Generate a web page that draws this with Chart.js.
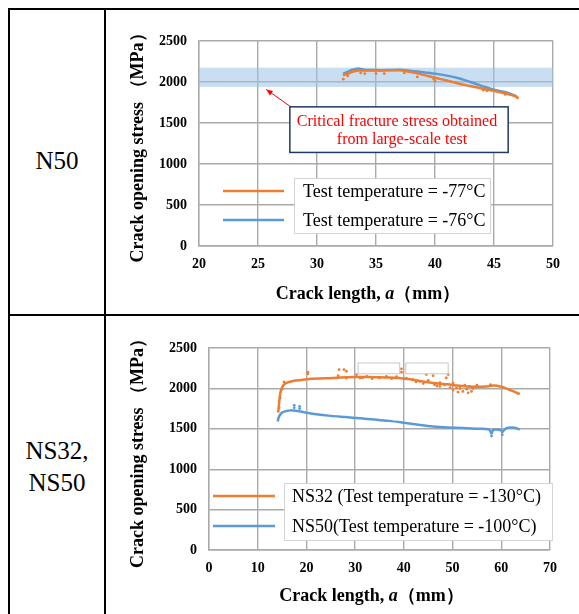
<!DOCTYPE html>
<html>
<head>
<meta charset="utf-8">
<script src="https://cdn.jsdelivr.net/npm/chart.js@4.4.1/dist/chart.umd.min.js"></script>
<style>
  body { margin: 0; background: #fff; width: 579px; height: 614px; overflow: hidden; position: relative; font-family: "Liberation Serif", serif; }
  .ln { position: absolute; background: #000; }
  .lbl { position: absolute; left: 9px; width: 96px; font-size: 25px; line-height: 32px; text-align: center; color: #000; }
  .cv { position: absolute; left: 110px; }
</style>
</head>
<body>
<div class="ln" style="left:8px;top:8px;width:571px;height:2px"></div>
<div class="ln" style="left:8px;top:8px;width:2px;height:606px"></div>
<div class="ln" style="left:104px;top:8px;width:2px;height:606px"></div>
<div class="ln" style="left:8px;top:314px;width:571px;height:2px"></div>

<div class="lbl" style="top:145px">N50</div>
<div class="lbl" style="top:435px">NS32,<br>NS50</div>

<canvas id="chartN50" class="cv" style="top:20px" width="460" height="290"></canvas>
<canvas id="chartNS" class="cv" style="top:320px" width="460" height="290"></canvas>

<script>
// ---- N50 chart data ----
const n50X77 = [32.2, 32.6, 33.0, 33.5, 34.0, 35.0, 36.0, 37.0, 37.5, 38.5, 39.5, 40.5, 41.5, 42.5, 43.5, 44.5, 45.5, 46.5, 47.0];
const n50Y77 = [2085, 2100, 2125, 2140, 2140, 2140, 2142, 2142, 2135, 2105, 2070, 2035, 2000, 1965, 1935, 1905, 1875, 1840, 1815];
const n50X76 = [32.2, 32.6, 33.0, 33.3, 33.6, 34.0, 35.0, 36.0, 37.0, 38.0, 39.0, 40.0, 41.0, 42.0, 43.0, 44.0, 45.0, 46.0, 46.9];
const n50Y76 = [2100, 2125, 2150, 2160, 2163, 2150, 2145, 2145, 2148, 2135, 2120, 2102, 2078, 2045, 2000, 1950, 1905, 1875, 1828];
const n50DotX = [32.23, 32.6, 33.7, 34.05, 35.0, 35.7, 37.4, 38.5, 39.9, 40.0, 44.1, 44.4, 45.95, 47.0];
const n50DotY = [2034, 2074, 2111, 2103, 2103, 2103, 2111, 2062, 2034, 2010, 1900, 1892, 1848, 1806];
const bandLow = 1940, bandHigh = 2175;

// ---- NS32 / NS50 chart data ----
const ns32X = [14.2, 14.4, 14.6, 14.9, 15.3, 15.8, 16.5, 17.5, 19, 21, 24, 27, 30, 33, 36, 39, 41, 43, 45, 47, 49, 51, 53, 55, 57, 58.5, 60, 61, 62, 63, 63.8];
const ns32Y = [1700, 1820, 1930, 2000, 2040, 2065, 2080, 2095, 2105, 2120, 2125, 2135, 2140, 2140, 2135, 2130, 2115, 2095, 2075, 2060, 2050, 2035, 2025, 2020, 2025, 2035, 2020, 2000, 1975, 1950, 1930];
const ns50X = [14.1, 14.3, 14.6, 15.0, 15.6, 16.3, 17.2, 18.5, 20, 22, 25, 28, 31, 34, 37, 40, 43, 46, 49, 52, 55, 57.5, 58, 58.3, 59, 60, 60.3, 61, 62, 63, 63.8];
const ns50Y = [1590, 1640, 1675, 1700, 1715, 1725, 1728, 1718, 1700, 1680, 1660, 1645, 1630, 1615, 1598, 1575, 1550, 1528, 1515, 1510, 1500, 1490, 1440, 1485, 1490, 1480, 1470, 1505, 1515, 1510, 1490];
const ns32NoiseX = [14.4, 14.6, 15.0, 15.4, 20.3, 20.3, 26.5, 26.7, 27.7, 28.2, 28.2, 30.3, 31.0, 31.5, 32.4, 35.0, 36.4, 39.5, 39.5, 40.5, 41.9, 43.3, 44.6, 46.0, 46.3, 47.4, 47.4, 48.4, 48.7, 49.1, 50.1, 50.1, 50.8, 51.1, 52.1, 52.9, 53.2, 53.5, 53.9, 57.8, 42.5, 44.0, 45.0, 46.8, 49.5, 51.5, 52.5, 54.2, 55.0, 33.5, 37.5, 38.5];
const ns32NoiseY = [1760, 1880, 1990, 2080, 2200, 2180, 2158, 2233, 2233, 2212, 2128, 2171, 2128, 2130, 2148, 2128, 2148, 2242, 2200, 2128, 2107, 2087, 2171, 2158, 2045, 2025, 2070, 2045, 2130, 2171, 2066, 1980, 2004, 1955, 1963, 1990, 1945, 2025, 1963, 2045, 2080, 2060, 2100, 2030, 2010, 2000, 2040, 2000, 2040, 2120, 2120, 2145];
const ns50NoiseX = [17.5, 17.5, 18.6, 18.6, 58.0, 58.0, 60.2, 60.2];
const ns50NoiseY = [1790, 1760, 1778, 1750, 1410, 1450, 1425, 1460];

const ORANGE = "#ed7d31";
const BLUE = "#5b9bd5";
const GRID = "#aaaaaa";
const SERIF = '"Liberation Serif", "Times New Roman", serif';

function pts(xs, ys) {
  return xs.map((x, i) => ({ x, y: ys[i] }));
}

function lineSet(label, xs, ys, color, order) {
  return { label, data: pts(xs, ys), showLine: true, borderColor: color, backgroundColor: color,
    borderWidth: 2.5, pointRadius: 0, tension: 0.3, order };
}

function dotSet(xs, ys, color, order) {
  return { data: pts(xs, ys), showLine: false, pointRadius: 1.4, pointBorderWidth: 0,
    backgroundColor: color, borderColor: color, order };
}

// draws legend, x title, band, annotation and empty boxes
const decoPlugin = {
  id: "deco",
  beforeDatasetsDraw(chart, args, o) {
    if (!o.band) return;
    const { ctx, chartArea: a, scales: { y } } = chart;
    ctx.save();
    ctx.fillStyle = "rgba(157,195,230,0.55)";
    const t = y.getPixelForValue(o.band[1]), b = y.getPixelForValue(o.band[0]);
    ctx.fillRect(a.left, t, a.right - a.left, b - t);
    ctx.restore();
  },
  afterDatasetsDraw(chart, args, o) {
    const { ctx, chartArea: a, scales: { x, y } } = chart;
    ctx.save();

    // empty boxes
    (o.ghosts || []).forEach(g => {
      const x1 = x.getPixelForValue(g[0]), x2 = x.getPixelForValue(g[1]);
      const y1 = y.getPixelForValue(g[3]), y2 = y.getPixelForValue(g[2]);
      ctx.fillStyle = "#fff";
      ctx.fillRect(x1, y1, x2 - x1, y2 - y1);
      ctx.strokeStyle = "#c8c8c8";
      ctx.lineWidth = 1;
      ctx.strokeRect(x1, y1, x2 - x1, y2 - y1);
    });

    // annotation with arrow
    if (o.note) {
      const n = o.note;
      const x1 = x.getPixelForValue(n.box[0]), x2 = x.getPixelForValue(n.box[1]);
      const y1 = y.getPixelForValue(n.box[2]), y2 = y.getPixelForValue(n.box[3]);
      const tx = x.getPixelForValue(n.tip[0]), ty = y.getPixelForValue(n.tip[1]);
      ctx.strokeStyle = "#ff0000";
      ctx.fillStyle = "#ff0000";
      ctx.lineWidth = 1;
      ctx.beginPath();
      ctx.moveTo(x1 + 1, y1);
      ctx.lineTo(tx, ty);
      ctx.stroke();
      const ang = Math.atan2(ty - y1, tx - x1 - 1);
      ctx.beginPath();
      ctx.moveTo(tx, ty);
      ctx.lineTo(tx - 7 * Math.cos(ang - 0.4), ty - 7 * Math.sin(ang - 0.4));
      ctx.lineTo(tx - 7 * Math.cos(ang + 0.4), ty - 7 * Math.sin(ang + 0.4));
      ctx.closePath();
      ctx.fill();
      ctx.fillStyle = "#fff";
      ctx.fillRect(x1, y1, x2 - x1, y2 - y1);
      ctx.strokeStyle = "#203864";
      ctx.lineWidth = 1.5;
      ctx.strokeRect(x1, y1, x2 - x1, y2 - y1);
      ctx.fillStyle = "#ff0000";
      ctx.font = "16px " + SERIF;
      ctx.textAlign = "center";
      ctx.textBaseline = "middle";
      const cx = (x1 + x2) / 2;
      ctx.fillText(n.lines[0], cx - 2, y1 + 14.5);
      ctx.fillText(n.lines[1], cx + 3, y1 + 33);
    }

    // legend
    const L = o.legend;
    ctx.fillStyle = "#fff";
    ctx.fillRect(L.x, L.y, L.w, L.h);
    ctx.strokeStyle = "#d4d4d4";
    ctx.lineWidth = 1;
    ctx.strokeRect(L.x + 0.5, L.y + 0.5, L.w, L.h);
    ctx.font = "18px " + SERIF;
    ctx.textAlign = "left";
    ctx.textBaseline = "middle";
    L.rows.forEach((ry, i) => {
      const ds = chart.data.datasets[i];
      ctx.strokeStyle = ds.borderColor;
      ctx.lineWidth = 2.5;
      ctx.beginPath();
      ctx.moveTo(L.lx1, ry);
      ctx.lineTo(L.lx2, ry);
      ctx.stroke();
      ctx.fillStyle = "#000";
      ctx.fillText(ds.label, L.tx, ry + 1.5);
    });

    // x axis title with italic a
    const parts = [["Crack length, ", "bold"], ["a", "italic bold"], ["（mm）", "bold"]];
    let w = 0;
    parts.forEach(p => { ctx.font = p[1] + " 18px " + SERIF; w += ctx.measureText(p[0]).width; });
    let px = (a.left + a.right) / 2 - 8 - w / 2;
    ctx.fillStyle = "#000";
    parts.forEach(p => {
      ctx.font = p[1] + " 18px " + SERIF;
      ctx.fillText(p[0], px, o.xTitleY);
      px += ctx.measureText(p[0]).width;
    });
    ctx.restore();
  }
};

function makeChart(id, datasets, c) {
  return new Chart(document.getElementById(id), {
    type: "scatter",
    data: { datasets },
    options: {
      responsive: false,
      animation: false,
      events: [],
      layout: { padding: { top: c.padTop, right: c.padRight, left: 0, bottom: 0 } },
      plugins: { legend: { display: false }, tooltip: { enabled: false }, deco: c.deco },
      scales: {
        x: {
          type: "linear", min: c.xMin, max: c.xMax,
          ticks: { stepSize: c.xStep, padding: 10, color: "#000", font: { family: SERIF, size: 14, weight: "bold" },
            callback: v => String(v) },
          grid: { color: GRID, lineWidth: 1.4, drawTicks: false },
          border: { color: GRID, width: 1.4 },
          afterFit: s => { s.height = c.xH; }
        },
        y: {
          min: 0, max: 2500,
          ticks: { stepSize: 500, padding: 12, color: "#000", font: { family: SERIF, size: 14, weight: "bold" },
            callback: v => String(v) },
          grid: { color: GRID, lineWidth: 1.4, drawTicks: false },
          border: { color: GRID, width: 1.4 },
          title: { display: true, text: "Crack opening stress （MPa）", color: "#000",
            font: { family: SERIF, size: 18, weight: "bold" }, padding: { top: 17.5, bottom: 0 } },
          afterFit: s => { s.width = c.yW; }
        }
      }
    },
    plugins: [decoPlugin]
  });
}

makeChart("chartN50", [
  lineSet("Test temperature = -77°C", n50X77, n50Y77, ORANGE, 1),
  lineSet("Test temperature = -76°C", n50X76, n50Y76, BLUE, 2),
  dotSet(n50DotX, n50DotY, ORANGE, 0)
], {
  xMin: 20, xMax: 50, xStep: 5, padTop: 21, padRight: 13, xH: 64, yW: 89,
  deco: {
    band: [bandLow, bandHigh],
    xTitleY: 274,
    note: { box: [27.7, 46.2, 1697, 1141], tip: [25.7, 1909],
      lines: ["Critical fracture stress obtained", "from large-scale test"] },
    legend: { x: 184, y: 158, w: 196, h: 55, lx1: 113, lx2: 174, tx: 193, rows: [171, 200] }
  }
});

makeChart("chartNS", [
  lineSet("NS32 (Test temperature = -130°C)", ns32X, ns32Y, ORANGE, 1),
  lineSet("NS50(Test temperature = -100°C)", ns50X, ns50Y, BLUE, 2),
  dotSet(ns32NoiseX, ns32NoiseY, ORANGE, 0),
  dotSet(ns50NoiseX, ns50NoiseY, BLUE, 0)
], {
  xMin: 0, xMax: 70, xStep: 10, padTop: 28, padRight: 20, xH: 60, yW: 99,
  deco: {
    xTitleY: 276,
    ghosts: [[30.6, 39.15, 2181, 2314], [40.4, 49.1, 2181, 2314]],
    legend: { x: 174, y: 163, w: 268, h: 57, lx1: 103, lx2: 165, tx: 182, rows: [176, 206] }
  }
});
</script>
</body>
</html>
